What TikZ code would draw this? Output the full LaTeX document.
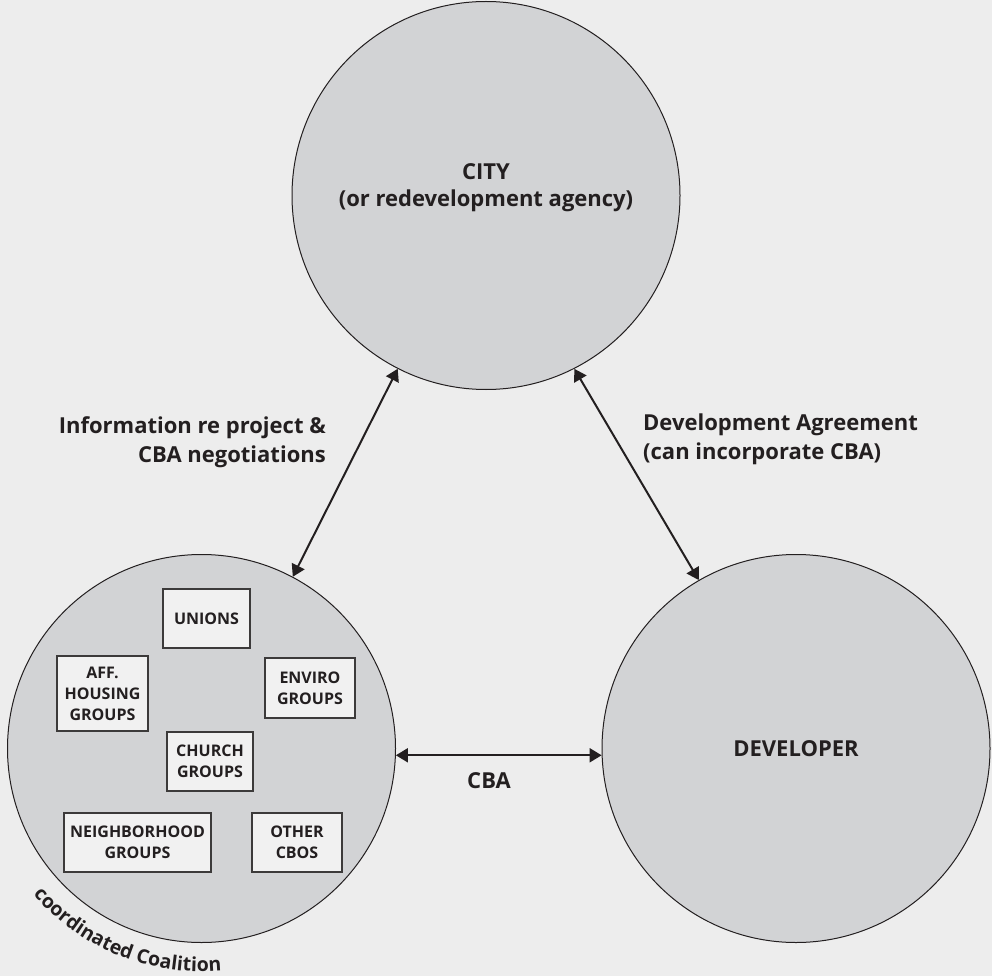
\documentclass[tikz,border=0pt]{standalone}
\usepackage{fontspec}
\setmainfont{Open Sans}
\usetikzlibrary{arrows.meta,decorations.text}
\definecolor{bgcol}{RGB}{237,237,237}
\definecolor{circfill}{RGB}{210,211,213}
\definecolor{boxfill}{RGB}{241,241,241}
\definecolor{ink}{RGB}{35,31,32}
\definecolor{boxline}{RGB}{60,58,58}
\begin{document}
\begin{tikzpicture}[x=1pt,y=1pt,
  party/.style={circle, draw=ink, line width=1pt, fill=circfill, minimum size=388pt,
    inner sep=0pt, text=ink, font=\bfseries\fontsize{22}{27}\selectfont, align=center},
  group/.style={rectangle, draw=boxline, line width=1.3pt, fill=boxfill, inner sep=0pt,
    text=ink, font=\bfseries\fontsize{16}{21}\selectfont, align=center},
  lbl/.style={text=ink, inner sep=0pt, font=\bfseries\fontsize{22}{29}\selectfont},
  link/.style={draw=ink, line width=2pt, {Triangle[length=12pt,width=14pt]}-{Triangle[length=12pt,width=14pt]}}
]
\useasboundingbox (0,0) rectangle (992,-976);
\fill[bgcol] (0,0) rectangle (992,-976);

\node[party, label={[text=ink, inner sep=0pt, align=center, font=\bfseries\fontsize{22}{27}\selectfont, yshift=8pt]center:{CITY\\(or redevelopment agency)}}] (city) at (486,-195.5) {};
\node[party] (coal) at (201.5,-748.5) {};
\node[party] (dev) at (796,-748.5) {DEVELOPER};

\node[group, minimum width=87pt, minimum height=59pt] (unions) at (206.5,-618.5) {UNIONS};
\node[group, minimum width=91pt, minimum height=75pt] (aff) at (102.5,-693.5) {AFF.\\HOUSING\\GROUPS};
\node[group, minimum width=90pt, minimum height=60pt] (enviro) at (310,-688) {ENVIRO\\GROUPS};
\node[group, minimum width=86pt, minimum height=59pt] (church) at (210,-761.5) {CHURCH\\GROUPS};
\node[group, minimum width=147pt, minimum height=59pt] (neigh) at (137.5,-842.5) {NEIGHBORHOOD\\GROUPS};
\node[group, minimum width=90pt, minimum height=59pt] (other) at (297,-842.5) {OTHER\\CBOS};

\draw[link] (coal.62) -- (city.243.5);
\draw[link] (city.-63) -- (dev.120.3);
\draw[link] (coal.-2) -- (dev.182);

\node[lbl, anchor=north east, align=right] (infolbl) at (326,-416) {Information re project \&\\CBA negotiations};
\node[lbl, anchor=north west, align=left] (devlbl) at (643,-414) {Development Agreement\\(can incorporate CBA)};
\node[lbl] (cbalbl) at (489,-781) {CBA};

\path[decorate, decoration={text along path, text align=left,
  text={|\bfseries\fontsize{19.5}{19.5}\selectfont\color{ink}|coordinated Coalition}}]
  (coal) ++(221:223pt) arc[start angle=221, end angle=300, radius=223pt];
\end{tikzpicture}
\end{document}
